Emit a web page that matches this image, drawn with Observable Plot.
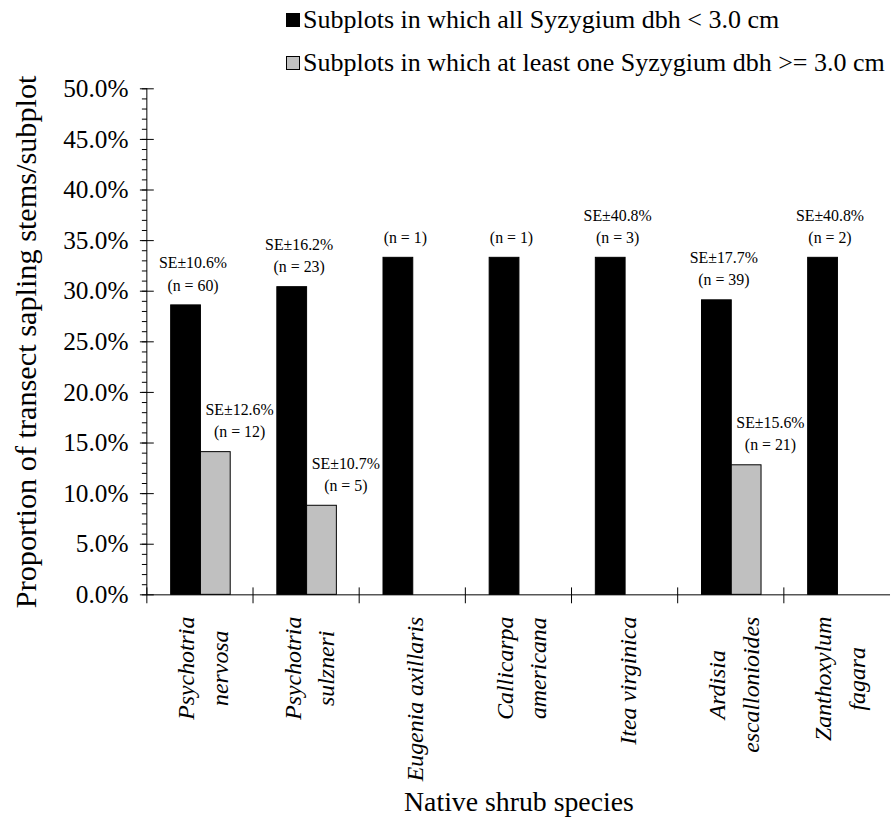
<!DOCTYPE html>
<html>
<head>
<meta charset="utf-8">
<script src="https://cdn.jsdelivr.net/npm/d3@7"></script>
<script src="https://cdn.jsdelivr.net/npm/@observablehq/plot@0.6"></script>
<style>
html, body { margin: 0; padding: 0; background: #fff; overflow: hidden; }
#wrap { position: relative; width: 893px; height: 827px; overflow: hidden; font-family: "Liberation Serif", serif; }
#chart { position: absolute; left: 0; top: 0; }
#legend { position: absolute; left: 286px; top: 0; font-size: 26px; color: #000; }
#legend .row { position: absolute; left: 0; white-space: nowrap; display: flex; align-items: center; line-height: 30px; }
#legend .sw { width: 12px; height: 12px; border: 1px solid #000; margin-right: 3px; flex: none; }
g[aria-label="y-axis label"] text { font-size: 30.5px; }
g[aria-label="fx-axis label"] text { font-size: 28px; font-style: normal; }
</style>
</head>
<body>
<div id="wrap">
  <div id="chart"></div>
  <div id="legend"></div>
</div>
<script>
// ---- data ----
const species = ["Psychotria nervosa", "Psychotria sulzneri", "Eugenia axillaris", "Callicarpa americana", "Itea virginica", "Ardisia escallonioides", "Zanthoxylum fagara"];
const speciesLabels = ["Psychotria\nnervosa", "Psychotria\nsulzneri", "Eugenia axillaris", "Callicarpa\namericana", "Itea virginica", "Ardisia\nescallonioides", "Zanthoxylum\nfagara"];
const seriesNames = ["Subplots in which all Syzygium dbh < 3.0 cm", "Subplots in which at least one Syzygium dbh >= 3.0 cm"];
const seriesColors = ["#000000", "#c0c0c0"];
const smallValues = [28.6, 30.4, 33.3, 33.3, 33.3, 29.1, 33.3];
const smallSE = [10.6, 16.2, null, null, 40.8, 17.7, 40.8];
const smallN = [60, 23, 1, 1, 3, 39, 2];
const largeValues = [14.1, 8.8, null, null, null, 12.8, null];
const largeSE = [12.6, 10.7, null, null, null, 15.6, null];
const largeN = [12, 5, null, null, null, 21, null];
const yTicks = [0, 5, 10, 15, 20, 25, 30, 35, 40, 45, 50];
const yMinorTicks = d3.range(0, 51, 1);
const yLabel = "Proportion of transect sapling stems/subplot";
const xLabel = "Native shrub species";

// ---- table ----
const rows = [];
species.forEach((s, i) => {
  rows.push({species: s, series: seriesNames[0], value: smallValues[i], se: smallSE[i], n: smallN[i]});
  if (largeValues[i] != null) rows.push({species: s, series: seriesNames[1], value: largeValues[i], se: largeSE[i], n: largeN[i]});
});
const labelOf = d => (d.se != null ? `SE±${d.se.toFixed(1)}%\n` : "") + `(n = ${d.n})`;

const chart = Plot.plot({
  width: 900,
  height: 827,
  marginLeft: 145,
  marginRight: 0,
  marginTop: 89,
  marginBottom: 228,
  style: {fontFamily: '"Liberation Serif", serif', fontSize: "16px", color: "#000", background: "transparent"},
  fx: {domain: species, paddingInner: 0, paddingOuter: 0},
  x: {domain: seriesNames, paddingInner: 0, paddingOuter: 0.73, axis: null},
  y: {domain: [0, 50]},
  color: {domain: seriesNames, range: seriesColors},
  marks: [
    Plot.barY(rows, {fx: "species", x: "series", y: "value", fill: "series", stroke: "#000", strokeWidth: 1}),
    Plot.ruleY([0], {stroke: "#000", strokeWidth: 1}),
    Plot.text(rows.filter(d => d.series === seriesNames[0]), {fx: "species", x: "series", y: "value", text: labelOf, lineAnchor: "bottom", lineHeight: 1.4, dy: -15, dx: 7, fill: "#000"}),
    Plot.text(rows.filter(d => d.series === seriesNames[1]), {fx: "species", x: "series", y: "value", text: labelOf, lineAnchor: "bottom", lineHeight: 1.4, dy: -15, dx: 24, fill: "#000"}),
    Plot.axisY({ticks: yTicks, tickSize: 0, tickPadding: 19, tickFormat: d => d.toFixed(1) + "%", fontSize: 25.5, label: yLabel, labelAnchor: "center", labelOffset: 134, labelArrow: "none"}),
    Plot.axisY({ticks: yTicks, tickSize: 14, dx: 7, fill: "none", label: null}),
    Plot.axisY({ticks: yMinorTicks, tickSize: 5, fill: "none", label: null}),
    Plot.axisFx({anchor: "bottom", tickSize: 0, tickPadding: 22, tickRotate: -90, tickFormat: d => speciesLabels[species.indexOf(d)], fontSize: 24, fontStyle: "italic", lineHeight: 1.4, label: xLabel, labelAnchor: "center", labelOffset: 218, labelArrow: "none"})
  ]
});
document.getElementById("chart").appendChild(chart);

// axis line and category boundary ticks from Plot's scales
const svg = d3.select(chart);
const fxS = chart.scale("fx"), yS = chart.scale("y");
const y0 = yS.apply(0), yTop = yS.apply(50);
const gAx = svg.append("g").attr("stroke", "#000").attr("stroke-width", 1);
const xLeft = fxS.apply(species[0]);
gAx.append("line").attr("x1", xLeft).attr("x2", xLeft).attr("y1", y0).attr("y2", yTop);
gAx.selectAll("line.cat").data(species).join("line").attr("class", "cat")
  .attr("x1", d => fxS.apply(d)).attr("x2", d => fxS.apply(d))
  .attr("y1", y0 - 7).attr("y2", y0 + 9);

// center wrapped lines of each category label
svg.selectAll('g[aria-label="fx-axis tick label"] text').each(function () {
  this.setAttribute("font-style", "italic");
  const ts = this.querySelectorAll("tspan");
  if (ts.length < 2) return;
  let m = 0;
  ts.forEach(t => { m = Math.max(m, t.getComputedTextLength()); });
  this.setAttribute("text-anchor", "middle");
  ts.forEach(t => t.setAttribute("x", -m / 2));
});

// legend
const legend = document.getElementById("legend");
seriesNames.forEach((name, i) => {
  const row = document.createElement("div");
  row.className = "row";
  row.style.top = (5 + i * 43) + "px";
  const sw = document.createElement("span");
  sw.className = "sw";
  sw.style.background = seriesColors[i];
  const tx = document.createElement("span");
  tx.textContent = name;
  row.appendChild(sw);
  row.appendChild(tx);
  legend.appendChild(row);
});
</script>
</body>
</html>
